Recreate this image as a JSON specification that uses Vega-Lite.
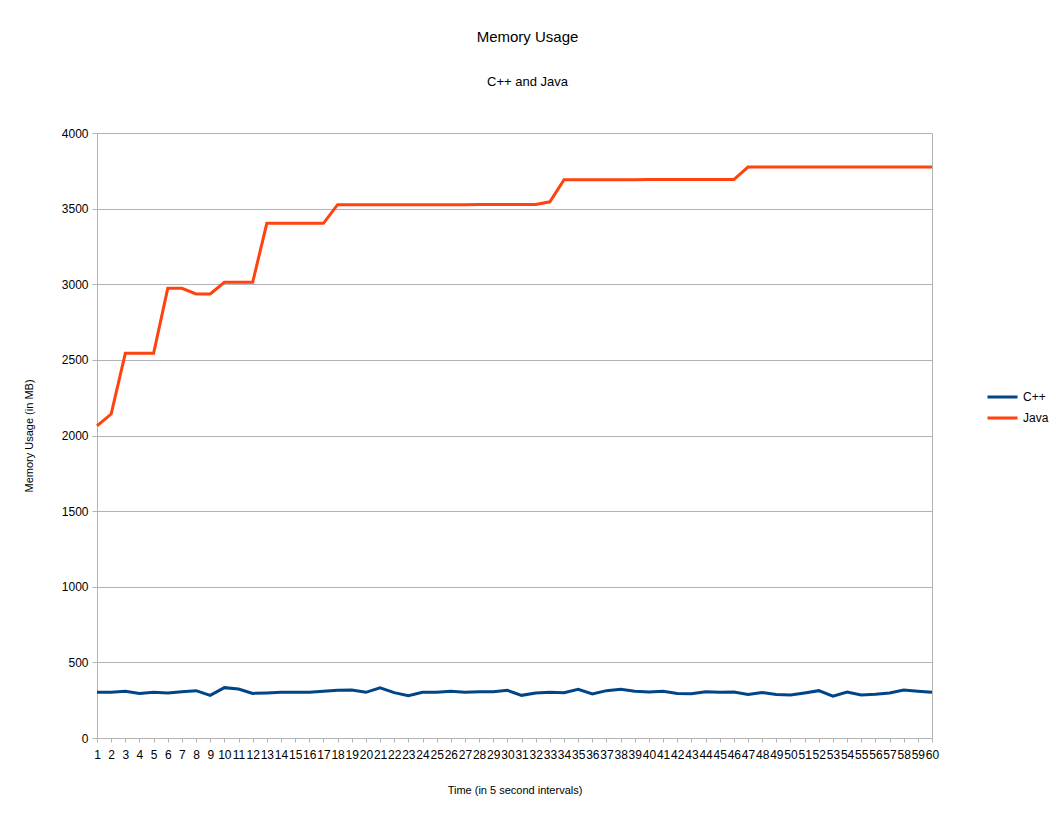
{
  "$schema": "https://vega.github.io/schema/vega-lite/v6.json",
  "width": 835,
  "height": 605,
  "autosize": "none",
  "padding": {"left": 97, "top": 133, "right": 124, "bottom": 78},
  "background": "white",
  "title": {
    "text": "Memory Usage",
    "subtitle": "C++ and Java",
    "anchor": "middle",
    "dx": 13,
    "offset": 38,
    "subtitlePadding": 31,
    "font": "Liberation Sans",
    "fontSize": 15,
    "fontWeight": "normal",
    "subtitleFont": "Liberation Sans",
    "subtitleFontSize": 13,
    "color": "#000",
    "subtitleColor": "#000"
  },
  "datasets": {
    "cpp": [302, 302, 309, 295, 302, 298, 306, 313, 282, 333, 324, 295, 298, 302, 302, 302, 309, 315, 317, 302, 331, 300, 280, 302, 302, 309, 302, 306, 306, 315, 282, 298, 302, 300, 322, 291, 313, 322, 309, 304, 309, 295, 293, 306, 302, 304, 287, 300, 287, 284, 298, 313, 276, 304, 284, 289, 298, 317, 309, 302],
    "java": [2063, 2142, 2543, 2543, 2543, 2973, 2973, 2936, 2936, 3013, 3013, 3013, 3403, 3403, 3403, 3403, 3403, 3526, 3526, 3526, 3526, 3526, 3526, 3526, 3526, 3526, 3526, 3527, 3527, 3527, 3527, 3527, 3545, 3691, 3691, 3691, 3691, 3691, 3691, 3692, 3692, 3692, 3692, 3692, 3692, 3692, 3775, 3775, 3775, 3775, 3775, 3775, 3775, 3775, 3775, 3775, 3775, 3775, 3775, 3775]
  },
  "layer": [
    {
      "data": {"name": "cpp"},
      "transform": [
        {"window": [{"op": "row_number", "as": "t"}]},
        {"calculate": "'C++'", "as": "series"}
      ],
      "mark": {"type": "line", "strokeWidth": 3}
    },
    {
      "data": {"name": "java"},
      "transform": [
        {"window": [{"op": "row_number", "as": "t"}]},
        {"calculate": "'Java'", "as": "series"}
      ],
      "mark": {"type": "line", "strokeWidth": 3}
    }
  ],
  "encoding": {
    "x": {
      "field": "t",
      "type": "ordinal",
      "scale": {"type": "point", "padding": 0},
      "axis": {
        "title": "Time (in 5 second intervals)",
        "labelAngle": 0,
        "labelOverlap": false,
        "labelPadding": 7,
        "tickSize": 4,
        "titlePadding": 24
      }
    },
    "y": {
      "field": "data",
      "type": "quantitative",
      "scale": {"domain": [0, 4000], "nice": false},
      "axis": {
        "title": "Memory Usage (in MB)",
        "values": [0, 500, 1000, 1500, 2000, 2500, 3000, 3500, 4000],
        "format": "d",
        "tickSize": 5,
        "labelPadding": 4,
        "titlePadding": 27
      }
    },
    "color": {
      "field": "series",
      "type": "nominal",
      "scale": {"domain": ["C++", "Java"], "range": ["#004586", "#ff420e"]},
      "legend": {
        "title": null,
        "orient": "none",
        "legendX": 889,
        "legendY": 256,
        "symbolType": "stroke",
        "symbolSize": 900,
        "symbolStrokeWidth": 3,
        "clipHeight": 16,
        "rowPadding": 5,
        "labelOffset": 4
      }
    }
  },
  "config": {
    "font": "Liberation Sans",
    "view": {"stroke": "#b3b3b3"},
    "axis": {
      "labelFont": "Liberation Sans",
      "labelFontSize": 12,
      "labelColor": "#000",
      "titleFont": "Liberation Sans",
      "titleFontSize": 11,
      "titleFontWeight": "normal",
      "titleColor": "#000",
      "domainColor": "#b3b3b3",
      "tickColor": "#b3b3b3",
      "gridColor": "#b3b3b3",
      "gridOpacity": 1
    },
    "axisX": {"grid": false},
    "axisY": {"grid": true},
    "legend": {"labelFont": "Liberation Sans", "labelFontSize": 12, "labelColor": "#000"}
  }
}
